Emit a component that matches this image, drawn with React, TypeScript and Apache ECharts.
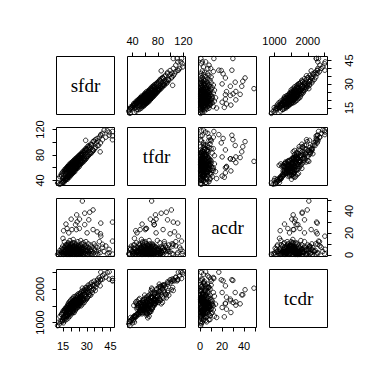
import React, { useEffect, useRef } from 'react';
import * as echarts from 'echarts';

const sfdr = [
  11.5, 12.2, 12.8, 13.0, 13.4, 13.9, 14.2, 14.5, 14.8, 15.0, 15.2, 15.5, 15.8, 16.0, 16.3, 16.5, 16.8, 17.0, 17.2, 17.5,
  17.6, 17.8, 18.0, 18.2, 18.4, 18.6, 18.8, 19.0, 19.1, 19.3, 19.5, 19.7, 19.9, 20.0, 20.1, 20.3, 20.5, 20.6, 20.8, 21.0,
  21.2, 21.4, 21.5, 21.7, 21.9, 22.0, 22.2, 22.4, 22.5, 22.7, 22.9, 23.0, 23.2, 23.4, 23.6, 23.8, 23.9, 24.0, 24.2, 24.4,
  24.6, 24.8, 25.0, 25.3, 25.4, 25.6, 25.8, 26.0, 26.2, 26.4, 26.6, 26.8, 27.0, 27.2, 27.4, 27.6, 27.8, 28.0, 28.3, 28.5,
  28.7, 28.7, 29.0, 29.2, 29.3, 29.5, 29.8, 30.0, 30.2, 30.4, 30.6, 30.9, 31.1, 31.3, 31.6, 31.9, 32.2, 32.5, 32.8, 33.1,
  33.5, 34.0, 34.0, 34.3, 34.6, 35.0, 35.4, 35.7, 36.1, 36.6, 36.7, 37.0, 37.5, 38.0, 38.5, 38.7, 38.9, 38.9, 40.0, 40.0,
  41.0, 42.1, 43.0, 44.2, 44.2, 46.3, 46.3, 46.3,
  14.0, 14.6, 15.1, 15.4, 15.9, 16.1, 16.4, 16.7, 16.9, 17.1, 17.3, 17.7, 17.9, 18.1, 18.3, 18.5, 18.7, 18.9, 19.2, 19.4,
  19.6, 19.8, 20.2, 20.4, 20.7, 20.9, 21.1, 21.3, 21.6, 21.8, 22.1, 22.3, 22.6, 22.8, 23.1, 23.3, 23.5, 23.7, 24.1, 24.3,
  24.5, 24.7, 24.9, 25.1, 25.5, 25.7, 25.9, 26.1, 26.5, 26.9, 27.3, 27.7, 28.1, 28.6, 29.1, 29.6, 30.1, 30.8, 31.4, 32.0,
  33.0, 33.8, 15.3, 14.9,
  16.2, 16.6, 17.4, 17.9, 18.3, 18.7, 19.0, 19.4, 19.8, 20.1, 20.5, 20.9, 21.2, 21.6, 22.0, 22.3, 22.7, 23.1, 23.5, 23.9,
  24.3, 24.7, 25.2, 25.6, 26.0, 26.5, 27.0, 27.5, 18.0, 19.6, 21.0, 22.5, 24.0, 20.0, 21.8, 23.3, 17.0, 19.2, 25.0, 26.3,
];

const tfdr = [
  36, 43, 34, 46, 35, 50, 36, 52, 38, 54, 40, 37, 56, 41, 58, 40, 55, 59, 42, 61,
  44, 42, 62, 46, 64, 47, 45, 63, 49, 66, 47, 61, 65, 50, 68, 49, 64, 52, 69, 51,
  66, 54, 71, 53, 67, 56, 73, 54, 69, 58, 74, 57, 71, 60, 76, 59, 73, 62, 77, 60,
  75, 64, 79, 62, 77, 66, 81, 65, 79, 68, 83, 67, 81, 70, 85, 69, 83, 72, 87, 71,
  85, 74, 89, 73, 103, 90, 75, 88, 77, 93, 78, 90, 79, 95, 81, 93, 82, 97, 83, 96,
  85, 101, 88, 87, 102, 90, 104, 92, 99, 106, 95, 102, 95, 108, 85, 99, 111, 112, 104, 114,
  119, 108, 118, 116, 111, 104, 117, 110,
  47, 37, 50, 39, 53, 41, 55, 43, 57, 44, 58, 46, 60, 45, 59, 48, 62, 49, 64, 50,
  63, 52, 66, 53, 67, 54, 69, 56, 68, 57, 71, 58, 70, 60, 73, 59, 72, 62, 75, 64,
  74, 65, 78, 66, 76, 68, 80, 69, 81, 70, 82, 74, 84, 75, 87, 78, 89, 81, 92, 84,
  96, 88, 45, 43,
  51, 43, 55, 47, 60, 49, 58, 51, 61, 54, 64, 56, 53, 65, 57, 68, 59, 66, 71, 62,
  69, 74, 65, 76, 71, 75, 79, 74, 57, 59, 59, 62, 70, 63, 64, 66, 52, 54, 73, 70,
];

const acdr = [
  0.5, 2, 1, 4, 0.5, 3, 6, 1, 8, 2, 0.5, 5, 12, 3, 7, 1, 28, 4, 9, 24,
  0.5, 6, 2, 11, 3, 20, 5, 8, 1, 13, 4, 7, 0.5, 10, 32.5, 3, 6, 23, 2, 9,
  5, 14, 1, 7, 3, 11, 0.5, 6, 8, 2, 27.5, 4, 10, 23, 36.4, 5, 30, 1, 7, 12,
  3, 9, 0.5, 24, 32.5, 6, 2, 8, 13, 4, 1, 10, 5, 49, 3, 7, 11, 2, 6, 9,
  37.9, 27.5, 4, 1, 8, 12, 3, 7, 20, 0.5, 5, 10, 2, 31.9, 6, 38.8, 4, 9, 1, 3,
  7, 40.9, 23, 2, 10, 5, 0.5, 8, 3, 20.9, 6.5, 1, 4, 12, 2, 19.2, 28.9, 17, 9.6, 7,
  3, 8.1, 1, 5, 2, 29.8, 12.5, 0.7,
  2, 5, 0.5, 3, 7, 1, 4, 9, 2, 6, 0.5, 3, 8, 1, 5, 2, 10, 4, 0.5, 6,
  3, 9, 1, 5, 2, 7, 4, 0.5, 6, 3, 8, 1, 5, 2, 9, 3, 0.5, 6, 2, 4,
  8, 1, 5, 3, 7, 0.5, 4, 2, 6, 1, 3, 5, 0.5, 2, 6, 1, 4, 0.5, 3, 1,
  5, 0.5, 22, 15,
  3, 1, 5, 2, 0.5, 4, 7, 1, 3, 6, 2, 0.5, 4, 8, 1, 3, 5, 0.5, 2, 6,
  1, 4, 0.5, 3, 2, 1, 5, 0.5, 9, 2, 11, 4, 0.5, 1, 5, 3, 2, 0.5, 7, 1,
];

const tcdr = [
  905, 1010, 960, 1180, 1030, 1240, 1020, 1290, 1080, 1350, 990, 1150, 1380, 1060, 1420, 1120, 1300, 1460, 1090, 1400,
  1180, 1510, 1220, 1560, 1140, 1450, 1610, 1250, 1480, 1190, 1640, 1310, 1530, 1680, 1520, 1260, 1600, 1580, 1330, 1720,
  1290, 1550, 1760, 1380, 1620, 1300, 1700, 1450, 1780, 1360, 1650, 1590, 1410, 1560, 1560, 1820, 1600, 1440, 1750, 1500,
  1860, 1470, 1690, 1760, 1620, 1520, 1880, 1580, 1790, 1500, 1930, 1620, 1840, 2030, 1560, 1950, 1650, 1880, 1600, 2000,
  1830, 1700, 1950, 1660, 2050, 1900, 1700, 2050, 1900, 1740, 2010, 2120, 1780, 1900, 2060, 1832, 2150, 1820, 2080, 2200,
  1900, 1982, 2100, 2010, 2240, 2120, 1960, 2063, 2180, 2250, 2150, 2300, 2220, 2350, 2100, 2280, 2282, 2510, 2300, 2400,
  2450, 2362, 2500, 2520, 2300, 2262, 2320, 2250,
  1250, 1060, 1310, 1100, 1350, 1160, 1400, 1200, 1370, 1180, 1440, 1240, 1480, 1210, 1390, 1530, 1270, 1450, 1340, 1560,
  1290, 1480, 1370, 1600, 1310, 1540, 1420, 1650, 1350, 1580, 1470, 1690, 1400, 1620, 1530, 1730, 1460, 1680, 1580, 1790,
  1520, 1700, 1640, 1820, 1560, 1740, 1660, 1870, 1600, 1780, 1720, 1910, 1680, 1840, 1760, 1980, 1730, 1940, 1850, 2060,
  1960, 2130, 1170, 1150,
  1330, 1190, 1260, 1400, 1310, 1520, 1420, 1350, 1560, 1440, 1380, 1610, 1500, 1430, 1660, 1550, 1470, 1700, 1610, 1520,
  1650, 1560, 1730, 1670, 1750, 1640, 1810, 1700, 1380, 1460, 1530, 1600, 1630, 1480, 1520, 1650, 1290, 1410, 1590, 1720,
];

const varNames = ['sfdr', 'tfdr', 'acdr', 'tcdr'];
const tickValues = [
  [15, 20, 25, 30, 35, 40, 45],
  [40, 60, 80, 100, 120],
  [0, 10, 20, 30, 40, 50],
  [1000, 1500, 2000, 2500],
];
const labelValues = [
  [15, 30, 45],
  [40, 80, 120],
  [0, 20, 40],
  [1000, 2000],
];
const axisMin = [10.8, 32.1, -1.5, 850];
const axisMax = [47.6, 123.2, 51.3, 2590];

export default function App() {
  const ref = useRef<HTMLDivElement>(null);
  useEffect(() => {
    const chart = echarts.init(ref.current!, null, { renderer: 'svg' });
    const vars = [sfdr, tfdr, acdr, tcdr];
    const L = [56.5, 127.5, 198.5, 269.5];
    const T = [56.5, 127.5, 198.5, 269.5];
    const S = 58;
    const grids: any[] = [];
    const xAxes: any[] = [];
    const yAxes: any[] = [];
    const series: any[] = [];
    const graphics: any[] = [];
    const labelFont = {
      fontSize: 11, color: '#000', fontFamily: '"Liberation Sans", Arial, sans-serif',
      formatter: (v: number) => String(v),
    };
    for (let i = 0; i < 4; i++) {
      for (let j = 0; j < 4; j++) {
        const idx = grids.length;
        grids.push({
          left: L[j], top: T[i], width: S, height: S, show: true,
          borderColor: '#000', borderWidth: 1, backgroundColor: 'transparent',
          containLabel: false, outerBoundsMode: 'none',
        });
        const topX = i === 0 && (j === 1 || j === 3);
        const bottomX = i === 3 && (j === 0 || j === 2);
        const leftY = j === 0 && (i === 1 || i === 3);
        const rightY = j === 3 && (i === 0 || i === 2);
        xAxes.push({
          type: 'value', gridIndex: idx, min: axisMin[j], max: axisMax[j],
          position: topX ? 'top' : 'bottom', show: i !== j && (topX || bottomX),
          axisLine: { show: false }, splitLine: { show: false },
          axisTick: { show: true, inside: false, length: 4, customValues: tickValues[j], lineStyle: { color: '#000', width: 1 } },
          axisLabel: { show: true, customValues: labelValues[j], margin: topX ? 10 : 13, ...labelFont },
        });
        yAxes.push({
          type: 'value', gridIndex: idx, min: axisMin[i], max: axisMax[i],
          position: rightY ? 'right' : 'left', show: i !== j && (leftY || rightY),
          axisLine: { show: false }, splitLine: { show: false },
          axisTick: { show: true, inside: false, length: 4, customValues: tickValues[i], lineStyle: { color: '#000', width: 1 } },
          axisLabel: { show: true, rotate: 90, customValues: labelValues[i], margin: rightY ? 16 : 11, ...labelFont },
        });
        if (i === j) {
          graphics.push({
            type: 'text', x: L[j] + S / 2, y: T[i] + S / 2,
            style: {
              text: varNames[i], fontSize: 19, fontFamily: '"Liberation Serif", "Times New Roman", serif',
              fill: '#000', align: 'center', verticalAlign: 'middle',
            },
          });
        } else {
          series.push({
            type: 'scatter', xAxisIndex: idx, yAxisIndex: idx,
            data: vars[j].map((v, k) => [v, vars[i][k]]),
            symbol: 'circle', symbolSize: 4.5, silent: true, large: false,
            itemStyle: { color: 'rgba(0,0,0,0)', borderColor: '#000', borderWidth: 1 },
          });
        }
      }
    }
    chart.setOption({
      animation: false,
      backgroundColor: '#fff',
      grid: grids,
      xAxis: xAxes,
      yAxis: yAxes,
      series,
      graphic: graphics,
    });
    return () => chart.dispose();
  }, []);
  return <div ref={ref} style={{ position: 'fixed', left: 0, top: 0, width: 384, height: 383 }} />;
}
